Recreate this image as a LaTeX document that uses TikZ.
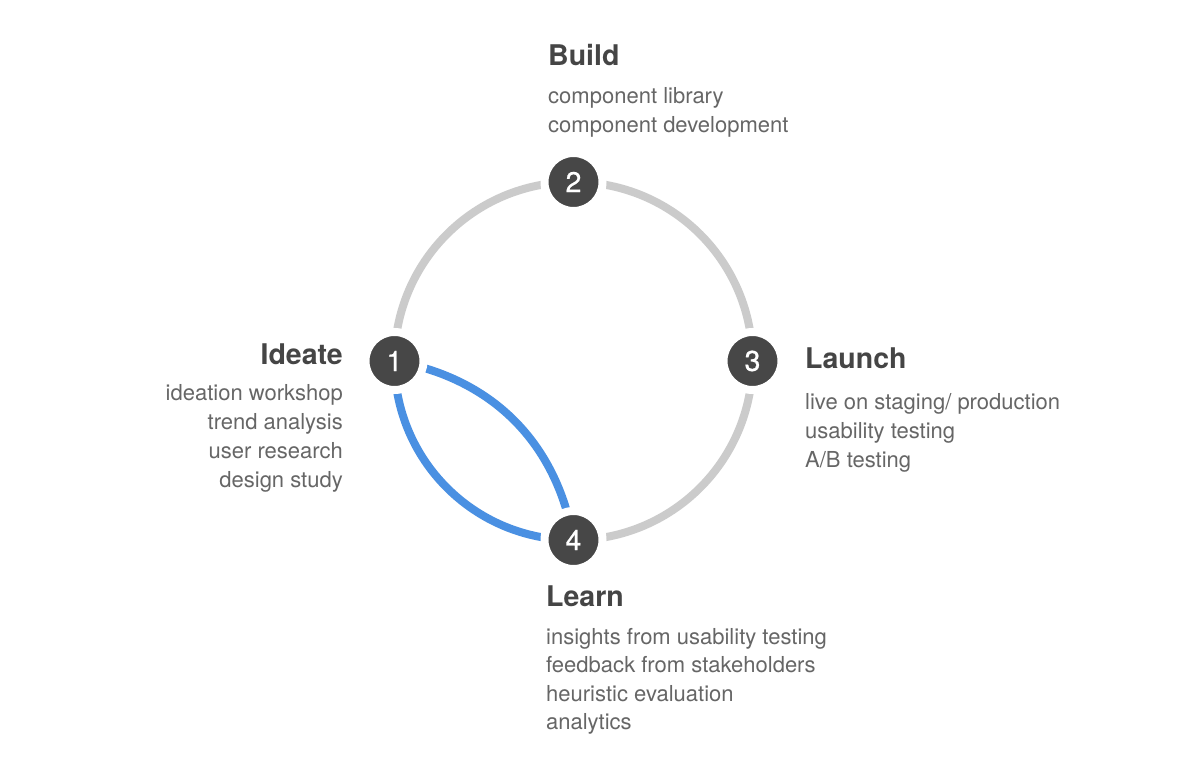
\documentclass[tikz,border=0pt]{standalone}
\usepackage{fontspec}
\setmainfont{TeX Gyre Heros}
\newfontfamily\digitfont[FakeBold=0.6]{TeX Gyre Heros}
\usetikzlibrary{backgrounds}
\definecolor{titlegray}{HTML}{454545}
\definecolor{bodygray}{HTML}{666666}
\definecolor{dotgray}{HTML}{474747}
\definecolor{ringgray}{HTML}{CBCBCB}
\definecolor{flowblue}{HTML}{4A90E2}
\tikzset{
  stepdot/.style={circle, fill=dotgray, draw=white, line width=8pt, minimum size=58pt, inner sep=0pt,
    text=white, font=\digitfont\fontsize{28.5}{28.5}\selectfont},
  titletext/.style={inner sep=0pt, text=titlegray, font=\fontsize{28.5}{30}\selectfont\bfseries},
  bodytext/.style={inner sep=0pt, text=bodygray, font=\fontsize{22}{24}\selectfont},
  cycleline/.style={draw=ringgray, line width=8pt},
  flowline/.style={draw=flowblue, line width=8pt}
}
\begin{document}
\begin{tikzpicture}[x=1pt,y=1pt]
\useasboundingbox (0,0) rectangle (1200,782);
% step dots
\node[stepdot] (n1) at (394.5,421) {1};
\node[stepdot] (n2) at (573.5,600) {2};
\node[stepdot] (n3) at (752.5,421) {3};
\node[stepdot] (n4) at (573.5,242) {4};
% connectors
\begin{pgfonlayer}{background}
  \fill[white] (0,0) rectangle (1200,782);
  \draw[cycleline] (n1.center) to[bend left=45] (n2.center);
  \draw[cycleline] (n2.center) to[bend left=45] (n3.center);
  \draw[cycleline] (n3.center) to[bend left=45] (n4.center);
  \draw[flowline] (n1.center) to[bend right=45] (n4.center);
  \draw[flowline] (n1.center) to[bend left=35] (n4.center);
\end{pgfonlayer}
% Build
\node[titletext, anchor=base west] (buildT) at (548,716) {Build};
\node[bodytext, anchor=base west] (build1) at (548,678) {component library};
\node[bodytext, anchor=base west] (build2) at (548,649) {component development};
% Ideate
\node[titletext, anchor=base east] (ideateT) at (343,417) {Ideate};
\node[bodytext, anchor=base east] (ideate1) at (343,381) {ideation workshop};
\node[bodytext, anchor=base east] (ideate2) at (343,352) {trend analysis};
\node[bodytext, anchor=base east] (ideate3) at (343,323) {user research};
\node[bodytext, anchor=base east] (ideate4) at (343,294) {design study};
% Launch
\node[titletext, anchor=base west] (launchT) at (805,413) {Launch};
\node[bodytext, anchor=base west] (launch1) at (805,372) {live on staging/ production};
\node[bodytext, anchor=base west] (launch2) at (805,343) {usability testing};
\node[bodytext, anchor=base west] (launch3) at (805,314) {A/B testing};
% Learn
\node[titletext, anchor=base west] (learnT) at (546,175) {Learn};
\node[bodytext, anchor=base west] (learn1) at (546,137) {insights from usability testing};
\node[bodytext, anchor=base west] (learn2) at (546,109) {feedback from stakeholders};
\node[bodytext, anchor=base west] (learn3) at (546,80) {heuristic evaluation};
\node[bodytext, anchor=base west] (learn4) at (546,52) {analytics};
\end{tikzpicture}
\end{document}
